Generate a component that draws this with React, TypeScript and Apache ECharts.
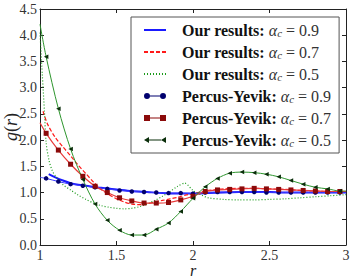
import React, { useEffect, useRef } from 'react';
import * as echarts from 'echarts';

// Percus-Yevik curves (markers at interior points)
const pyR = [1.00, 1.04, 1.12, 1.20, 1.28, 1.36, 1.44, 1.52, 1.60, 1.68, 1.76, 1.84, 1.92, 2.00, 2.08, 2.16, 2.24, 2.32, 2.40, 2.48, 2.56, 2.64, 2.72, 2.80, 2.88, 2.96, 3.00];
const pyG09 = [1.29, 1.27, 1.21, 1.16, 1.13, 1.10, 1.07, 1.04, 1.02, 1.01, 1.00, 0.99, 0.99, 0.98, 1.00, 1.01, 1.01, 1.01, 1.01, 1.00, 1.00, 1.00, 1.00, 1.00, 1.00, 1.00, 1.00];
const pyG07 = [2.33, 2.13, 1.81, 1.54, 1.31, 1.12, 1.00, 0.90, 0.84, 0.80, 0.80, 0.81, 0.86, 0.93, 1.02, 1.05, 1.06, 1.07, 1.08, 1.07, 1.06, 1.05, 1.04, 1.03, 1.02, 1.02, 1.02];
const pyG05 = [4.21, 3.59, 2.60, 1.83, 1.25, 0.78, 0.47, 0.28, 0.19, 0.19, 0.30, 0.42, 0.64, 0.89, 1.11, 1.27, 1.37, 1.39, 1.38, 1.35, 1.30, 1.23, 1.16, 1.10, 1.07, 1.03, 1.03];

// Our results
const ourR09 = [1.057, 1.1, 1.15, 1.2, 1.25, 1.3, 1.4, 1.5, 1.6, 1.7, 1.8, 1.9, 2.0, 2.1, 2.2, 2.3, 2.4, 2.5, 2.6, 2.7, 2.8, 2.9, 3.0];
const ourG09 = [1.35, 1.29, 1.23, 1.18, 1.15, 1.13, 1.09, 1.06, 1.03, 1.01, 0.99, 0.98, 0.98, 0.99, 1.00, 1.01, 1.01, 1.01, 1.00, 1.00, 1.00, 1.00, 1.00];
const ourR07 = [1.02, 1.05, 1.1, 1.15, 1.2, 1.25, 1.3, 1.35, 1.4, 1.45, 1.5, 1.55, 1.6, 1.65, 1.7, 1.75, 1.8, 1.85, 1.9, 1.95, 2.0, 2.05, 2.1, 2.2, 2.3, 2.4, 2.5, 2.6, 2.7, 2.8, 2.9, 3.0];
const ourG07 = [2.55, 2.30, 2.05, 1.87, 1.70, 1.52, 1.36, 1.20, 1.06, 0.96, 0.88, 0.82, 0.78, 0.77, 0.79, 0.82, 0.85, 0.88, 0.91, 0.95, 0.98, 1.01, 1.04, 1.07, 1.08, 1.08, 1.07, 1.06, 1.04, 1.03, 1.02, 1.01];
const ourR05 = [1.00, 1.015, 1.03, 1.04, 1.06, 1.08, 1.10, 1.15, 1.20, 1.25, 1.30, 1.35, 1.40, 1.45, 1.50, 1.55, 1.60, 1.65, 1.70, 1.75, 1.80, 1.85, 1.90, 1.945, 2.00, 2.05, 2.10, 2.2, 2.3, 2.4, 2.5, 2.6, 2.7, 2.8, 2.9, 3.0];
const ourG05 = [4.05, 3.25, 2.50, 1.95, 1.60, 1.42, 1.32, 1.15, 1.05, 0.95, 0.87, 0.80, 0.75, 0.72, 0.70, 0.69, 0.70, 0.73, 0.78, 0.85, 0.93, 1.02, 1.12, 1.18, 1.04, 0.96, 0.90, 0.87, 0.86, 0.86, 0.87, 0.88, 0.90, 0.92, 0.94, 0.96];

const seriesPrefixes = ['Our results:', 'Our results:', 'Our results:', 'Percus-Yevik:', 'Percus-Yevik:', 'Percus-Yevik:'];
const alphaValues = ['0.9', '0.7', '0.5', '0.9', '0.7', '0.5'];
const seriesNames = seriesPrefixes.map((p, i) => `${p} α_c = ${alphaValues[i]}`);

const xTicks = { min: 1, max: 3, interval: 0.5 };
const yTicks = { min: 0, max: 4.5, interval: 0.5 };

const SERIF = "'Liberation Serif', 'DejaVu Serif', serif";

function pairs(xs: number[], ys: number[]) {
  return xs.map((x, i) => [x, ys[i]]);
}
function pyData(ys: number[]) {
  return pyR.map((x, i) => {
    const item: any = { value: [x, ys[i]] };
    if (i === 0 || i === pyR.length - 1) item.symbol = 'none';
    return item;
  });
}

const iconCircles = 'path://M0,3a3,3 0 1,0 6,0a3,3 0 1,0 -6,0Z M16,3a3,3 0 1,0 6,0a3,3 0 1,0 -6,0Z M6,2.5h10v1h-10Z';
const iconSquares = 'path://M0,0h6v6h-6Z M16,0h6v6h-6Z M6,2.5h10v1h-10Z';
const iconTriangles = 'path://M0,3L5,0L5,6Z M17,3L22,0L22,6Z M5,2.5h12v1h-12Z';

export default function App() {
  const ref = useRef<HTMLDivElement>(null);
  useEffect(() => {
    if (!ref.current) return;
    const chart = echarts.init(ref.current, undefined, { renderer: 'svg' });
    const axisLine = { show: true, onZero: false, lineStyle: { color: '#222', width: 1 } };
    const tick = { show: true, inside: true, length: 4, lineStyle: { color: '#222', width: 1 } };
    const labelStyle = { color: '#333', fontSize: 14, lineHeight: 14, fontFamily: SERIF };
    const hideSym = { opacity: 0 };
    const option: any = {
      animation: false,
      backgroundColor: '#fff',
      grid: { left: 40, right: 6, top: 9, bottom: 33, containLabel: false, outerBoundsMode: 'none' },
      xAxis: [
        {
          type: 'value', ...xTicks, position: 'bottom',
          axisLine, axisTick: tick, splitLine: { show: false },
          axisLabel: { ...labelStyle, margin: 3 },
          name: 'r', nameLocation: 'middle', nameGap: 17, nameMoveOverlap: false,
          nameTextStyle: { fontFamily: SERIF, fontStyle: 'italic', fontSize: 16, lineHeight: 16, color: '#222' },
        },
        {
          type: 'value', ...xTicks, position: 'top',
          axisLine, axisTick: tick, splitLine: { show: false }, axisLabel: { show: false },
        },
      ],
      yAxis: [
        {
          type: 'value', ...yTicks, position: 'left',
          axisLine, axisTick: tick, splitLine: { show: false },
          axisLabel: { ...labelStyle, margin: 3, formatter: (v: number) => v.toFixed(1) },
          name: '{i|g}{n|(}{i|r}{n|)}', nameLocation: 'middle', nameGap: 20, nameRotate: 90, nameMoveOverlap: false,
          nameTextStyle: {
            color: '#222',
            rich: {
              i: { fontFamily: SERIF, fontStyle: 'italic', fontSize: 18, lineHeight: 18, color: '#222' },
              n: { fontFamily: SERIF, fontSize: 18, lineHeight: 18, color: '#222' },
            },
          },
        },
        {
          type: 'value', ...yTicks, position: 'right',
          axisLine, axisTick: tick, splitLine: { show: false }, axisLabel: { show: false },
        },
      ],
      legend: {
        orient: 'vertical',
        left: 131, top: 17,
        padding: [5, 8, 5, 12],
        itemGap: 6,
        itemWidth: 22, itemHeight: 6,
        backgroundColor: '#fff',
        borderColor: '#555', borderWidth: 1, borderRadius: 0,
        data: [
          { name: seriesNames[0], itemStyle: hideSym },
          { name: seriesNames[1], itemStyle: hideSym },
          { name: seriesNames[2], itemStyle: hideSym },
          { name: seriesNames[3], icon: iconCircles },
          { name: seriesNames[4], icon: iconSquares },
          { name: seriesNames[5], icon: iconTriangles },
        ],
        formatter: (name: string) => {
          const i = seriesNames.indexOf(name);
          return `{sp| }{b|${seriesPrefixes[i]}}{n| }{a|α}{c|c}{n| = ${alphaValues[i]}}`;
        },
        textStyle: {
          rich: {
            sp: { width: 11, fontSize: 16, lineHeight: 16 },
            b: { fontFamily: SERIF, fontWeight: 'bold', fontSize: 16, lineHeight: 16, color: '#111' },
            n: { fontFamily: SERIF, fontSize: 16, lineHeight: 16, color: '#333' },
            a: { fontFamily: SERIF, fontStyle: 'italic', fontSize: 16, lineHeight: 16, color: '#333' },
            c: { fontFamily: SERIF, fontStyle: 'italic', fontSize: 11, lineHeight: 8, verticalAlign: 'bottom', color: '#333' },
          },
        },
      },
      series: [
        {
          name: seriesNames[0], type: 'line', symbol: 'none', smooth: 0.3,
          data: pairs(ourR09, ourG09),
          lineStyle: { color: '#1a1aff', width: 2 }, itemStyle: { color: '#1a1aff' },
        },
        {
          name: seriesNames[1], type: 'line', symbol: 'none', smooth: 0.3,
          data: pairs(ourR07, ourG07),
          lineStyle: { color: '#ff1a1a', width: 1.2, type: [4, 2] }, itemStyle: { color: '#ff1a1a' },
        },
        {
          name: seriesNames[2], type: 'line', symbol: 'none', smooth: 0.3,
          data: pairs(ourR05, ourG05),
          lineStyle: { color: '#1a9a1a', width: 1.2, type: [1, 2] }, itemStyle: { color: '#1a9a1a' },
        },
        {
          name: seriesNames[3], type: 'line', symbol: 'circle', symbolSize: 4.5, smooth: 0.3,
          data: pyData(pyG09),
          lineStyle: { color: '#3a3aff', width: 1 }, itemStyle: { color: '#00006e' },
        },
        {
          name: seriesNames[4], type: 'line', symbol: 'rect', symbolSize: 5, smooth: 0.3,
          data: pyData(pyG07),
          lineStyle: { color: '#e83a3a', width: 1.2 }, itemStyle: { color: '#8b0a0a' },
        },
        {
          name: seriesNames[5], type: 'line', symbol: 'triangle', symbolRotate: 90, symbolSize: 4.5, smooth: 0.3,
          data: pyData(pyG05),
          lineStyle: { color: '#2e962e', width: 1 }, itemStyle: { color: '#0a2e0a' },
        },
      ],
    };
    chart.setOption(option);
    return () => chart.dispose();
  }, []);
  return <div ref={ref} style={{ position: 'fixed', left: 0, top: 0, width: 352, height: 278 }} />;
}
